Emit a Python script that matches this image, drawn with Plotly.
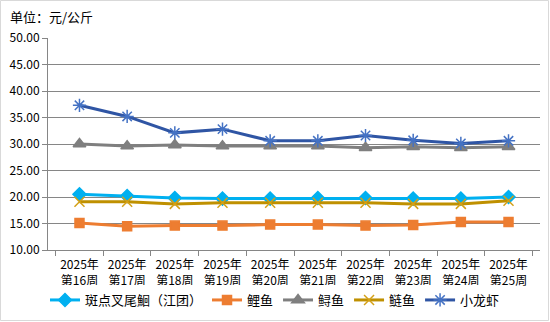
import plotly.graph_objects as go

weeks = ["2025年<br>第16周", "2025年<br>第17周", "2025年<br>第18周", "2025年<br>第19周", "2025年<br>第20周",
         "2025年<br>第21周", "2025年<br>第22周", "2025年<br>第23周", "2025年<br>第24周", "2025年<br>第25周"]
banchadian = [20.5, 20.2, 19.8, 19.7, 19.7, 19.8, 19.8, 19.7, 19.7, 20.0]
liyu = [15.1, 14.5, 14.6, 14.6, 14.8, 14.8, 14.6, 14.7, 15.3, 15.3]
fuyu = [30.0, 29.6, 29.8, 29.6, 29.6, 29.6, 29.3, 29.5, 29.3, 29.5]
lianyu = [19.1, 19.1, 18.7, 18.9, 18.9, 18.9, 18.9, 18.7, 18.7, 19.3]
xiaolongxia = [37.3, 35.2, 32.1, 32.8, 30.6, 30.6, 31.6, 30.7, 30.1, 30.6]
yticks = [10, 15, 20, 25, 30, 35, 40, 45, 50]

series = [
    ("斑点叉尾鮰（江团）", banchadian, "#00B0F0", "diamond", 10, "#00B0F0"),
    ("鲤鱼", liyu, "#ED7D31", "square", 9, "#ED7D31"),
    ("鲟鱼", fuyu, "#7F7F7F", "triangle-up", 11, "#7F7F7F"),
    ("鲢鱼", lianyu, "#BF9000", "x-thin-open", 10, "#D4A017"),
    ("小龙虾", xiaolongxia, "#2F55A4", "asterisk-open", 11, "#4472C4"),
]

fig = go.Figure()
for name, vals, color, sym, size, mcol in series:
    fig.add_trace(go.Scatter(
        x=weeks, y=vals, name=name, mode="lines+markers",
        line=dict(color=color, width=3),
        marker=dict(symbol=sym, size=size, color=mcol,
                    line=dict(color=mcol, width=1.5)),
    ))

font = "Noto Sans CJK SC, SimSun, sans-serif"
W, H, L, R, T, B = 550, 322, 48, 10, 38, 72
pw, ph = W - L - R, H - T - B
fig.update_layout(
    width=W, height=H,
    margin=dict(l=L, r=R, t=T, b=B, autoexpand=False),
    paper_bgcolor="white", plot_bgcolor="white",
    font=dict(family=font, size=11, color="#000000"),
    showlegend=True,
    legend=dict(orientation="h", x=0.5, xanchor="center", xref="container",
                y=22 / H, yanchor="middle", yref="container",
                font=dict(size=13), itemwidth=30, tracegroupgap=0),
    annotations=[dict(text="单位：元/公斤", xref="paper", yref="paper",
                      x=-L / pw + 8 / pw, y=1 + (T - 17) / ph, xanchor="left", yanchor="middle",
                      showarrow=False, font=dict(size=13))],
    shapes=[dict(type="rect", xref="paper", yref="paper",
                 x0=-(L - 0.5) / pw, x1=1 + (R - 1.5) / pw,
                 y0=-(B - 1.5) / ph, y1=1 + (T - 0.5) / ph,
                 line=dict(color="#D9D9D9", width=1))],
)
fig.update_xaxes(
    type="category", tickson="boundaries", ticks="outside", ticklen=5,
    tickcolor="#868686", showline=True, linecolor="#868686", linewidth=1,
    showgrid=False, tickfont=dict(size=12), ticklabelstandoff=4,
)
fig.update_yaxes(
    range=[10, 50], tickvals=yticks, ticktext=[f"{v:.2f}" for v in yticks],
    ticks="outside", ticklen=5, tickcolor="#868686",
    showline=True, linecolor="#868686", linewidth=1,
    showgrid=True, gridcolor="#868686", gridwidth=1, zeroline=False,
    tickfont=dict(size=12),
)
fig.write_html("out.html")
